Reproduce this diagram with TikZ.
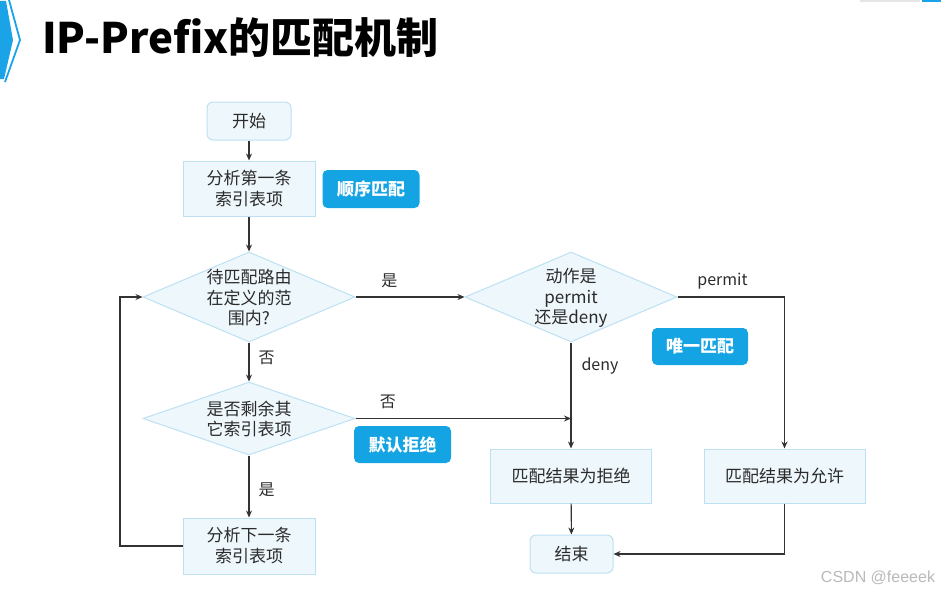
\documentclass[tikz,border=0pt]{standalone}
\usepackage{fontspec}
\setmainfont{Noto Sans CJK SC}
\newfontfamily\wmfont{Liberation Sans}
\usetikzlibrary{shapes.geometric,arrows.meta}
\definecolor{boxfill}{HTML}{EEF7FC}
\definecolor{boxdraw}{HTML}{BDE1F3}
\definecolor{tagblue}{HTML}{14A3E3}
\definecolor{linec}{HTML}{333333}
\definecolor{txtc}{HTML}{2B2B2B}
\definecolor{chev}{HTML}{1AA3E6}
\begin{document}
\begin{tikzpicture}[x=1pt,y=-1pt,
  every node/.style={font=\fontsize{17}{21}\selectfont, text=txtc},
  box/.style={draw=boxdraw, fill=boxfill, line width=1pt, minimum width=132pt, minimum height=55pt, align=center, inner sep=0pt},
  rbox/.style={box, rounded corners=6pt, minimum width=84pt, minimum height=38pt},
  dia/.style={draw=boxdraw, fill=boxfill, line width=1pt, shape=diamond, minimum width=212pt, minimum height=90pt, inner sep=0pt},
  dtxt/.style={align=center, inner sep=0pt, font=\fontsize{17}{20.5}\selectfont},
  tag/.style={fill=tagblue, rounded corners=5pt, text=white, font=\bfseries\fontsize{17}{20}\selectfont, minimum width=97pt, minimum height=38pt, inner sep=0pt},
  arr/.style={draw=linec, line width=1.1pt, -{Stealth[length=7pt,width=6pt]}},
  lbl/.style={font=\fontsize{16}{18}\selectfont, inner sep=0pt}
]
\useasboundingbox (0,0) rectangle (941,594);
% title decoration
\fill[chev] (0,1) -- (6,1) -- (13,40) -- (4,79) -- (0,79) -- cycle;
\draw[chev, line width=1.8pt] (9,0) -- (20,40) -- (5,82);
\fill[gray!20] (860,0) rectangle (920,2);
\fill[chev] (922,0) rectangle (941,2);
\node[anchor=west, inner sep=0pt, text=black, font=\bfseries\fontsize{42}{44}\selectfont] (title) at (42,38) {IP-Prefix的匹配机制};

% nodes
\node[rbox] (start) at (249,121) {开始};
\node[box] (a1) at (249,188.5) {分析第一条\\索引表项};
\node[tag] (t1) at (371,189) {顺序匹配};
\node[dia] (d1) at (249,297) {};
\node[dtxt] (d1t) at (249,298) {待匹配路由\\在定义的范\\围内?};
\node[dia] (d2) at (571,297) {};
\node[dtxt] (d2t) at (571,298) {动作是\\permit\\还是deny};
\node[dia, minimum height=73pt] (d3) at (249,418.5) {};
\node[dtxt] (d3t) at (249,419) {是否剩余其\\它索引表项};
\node[box, minimum height=56pt] (a2) at (249,546) {分析下一条\\索引表项};
\node[box, minimum width=161pt, minimum height=54pt] (rej) at (571,476) {匹配结果为拒绝};
\node[box, minimum width=161pt, minimum height=54pt] (per) at (784.5,476) {匹配结果为允许};
\node[rbox, minimum width=83pt] (end) at (571.5,554) {结束};
\node[tag, minimum width=96pt, minimum height=37pt] (t2) at (700,346.5) {唯一匹配};
\node[tag, minimum height=37pt] (t3) at (402.5,444.5) {默认拒绝};
\node[text=gray!55, font=\wmfont\fontsize{16}{16}\selectfont, inner sep=0pt] (wm) at (878,578) {CSDN @feeeek};

% connectors
\coordinate (j) at (d2.south |- d3.east);
\coordinate (lp) at (120,297);
\draw[arr] (start) -- (a1);
\draw[arr] (a1) -- (d1.north);
\draw[arr] (d1.east) -- node[lbl, pos=0.31, above=9pt] {是} (d2.west);
\draw[arr] (d1.south) -- node[lbl, pos=0.4, right=9pt] {否} (d3.north);
\draw[arr] (d3.east) -- node[lbl, pos=0.15, above=9pt] {否} (j);
\draw[arr] (d2.south) -- node[lbl, pos=0.22, right=10pt] {deny} (rej.north);
\draw[arr] (d2.east) -| node[lbl, pos=0.21, above=7pt] {permit} (per.north);
\draw[arr] (d3.south) -- node[lbl, pos=0.56, right=9pt] {是} (a2.north);
\draw[arr] (a2.west) -| (lp) -- (d1.west);
\draw[arr] (rej) -- (end);
\draw[arr] (per.south) |- (end.east);
\end{tikzpicture}
\end{document}
